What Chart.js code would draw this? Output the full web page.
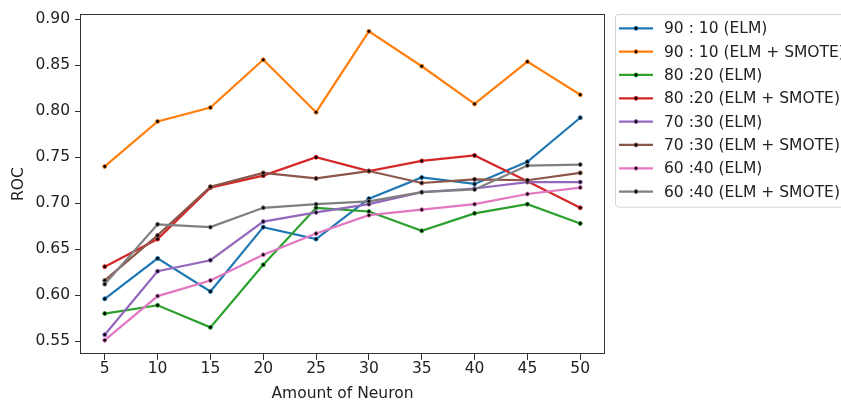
<!DOCTYPE html>
<html>
<head>
<meta charset="utf-8">
<script src="https://cdn.jsdelivr.net/npm/chart.js@4.4.0/dist/chart.umd.min.js"></script>
<style>
  html, body { margin: 0; padding: 0; background: #ffffff; }
  #c { display: block; }
</style>
</head>
<body>
<canvas id="c" width="841" height="403"></canvas>
<script>
// ---- data ----
const neurons = [5, 10, 15, 20, 25, 30, 35, 40, 45, 50];
const xTicks = [5, 10, 15, 20, 25, 30, 35, 40, 45, 50];
const yTicks = [0.55, 0.60, 0.65, 0.70, 0.75, 0.80, 0.85, 0.90];

const seriesLabels = [
  '90 : 10 (ELM)',
  '90 : 10 (ELM + SMOTE)',
  '80 :20 (ELM)',
  '80 :20 (ELM + SMOTE)',
  '70 :30 (ELM)',
  '70 :30 (ELM + SMOTE)',
  '60 :40 (ELM)',
  '60 :40 (ELM + SMOTE)'
];
const elm90 = [0.596, 0.640, 0.604, 0.674, 0.661, 0.705, 0.728, 0.721, 0.745, 0.793];
const smote90 = [0.740, 0.789, 0.804, 0.856, 0.799, 0.887, 0.849, 0.808, 0.854, 0.818];
const elm80 = [0.580, 0.589, 0.565, 0.633, 0.695, 0.691, 0.670, 0.689, 0.699, 0.678];
const smote80 = [0.631, 0.661, 0.717, 0.730, 0.750, 0.735, 0.746, 0.752, 0.724, 0.695];
const elm70 = [0.557, 0.626, 0.638, 0.680, 0.690, 0.699, 0.712, 0.716, 0.723, 0.723];
const smote70 = [0.616, 0.665, 0.718, 0.733, 0.727, 0.735, 0.722, 0.726, 0.725, 0.733];
const elm60 = [0.551, 0.599, 0.616, 0.644, 0.667, 0.687, 0.693, 0.699, 0.710, 0.717];
const smote60 = [0.612, 0.677, 0.674, 0.695, 0.699, 0.702, 0.712, 0.715, 0.741, 0.742];
const seriesValues = [elm90, smote90, elm80, smote80, elm70, smote70, elm60, smote60];
const seriesColors = ['#1f77b4', '#ff7f0e', '#2ca02c', '#d62728', '#9467bd', '#8c564b', '#e377c2', '#7f7f7f'];

const FONT = { family: '"DejaVu Sans", sans-serif', size: 15.5 };
const TEXT = '#222222';

const datasets = seriesValues.map((vals, i) => ({
  label: seriesLabels[i],
  data: neurons.map((n, j) => ({ x: n, y: vals[j] })),
  borderColor: seriesColors[i],
  backgroundColor: seriesColors[i],
  borderWidth: 2.2,
  pointRadius: 2,
  pointBorderWidth: 1,
  pointBorderColor: seriesColors[i],
  pointBackgroundColor: '#000000',
  tension: 0,
  fill: false,
  order: seriesValues.length - i
}));

const framePlugin = {
  id: 'frame',
  afterDatasetsDraw(chart) {
    const { ctx, chartArea: a } = chart;
    ctx.save();
    ctx.strokeStyle = '#333333';
    ctx.lineWidth = 1;
    ctx.strokeRect(Math.round(a.left) - 0.5, Math.round(a.top) + 0.5,
                   Math.round(a.right - a.left) + 1, Math.round(a.bottom - a.top) - 1);
    ctx.restore();
  }
};

const legendPlugin = {
  id: 'mplLegend',
  afterDraw(chart) {
    const { ctx } = chart;
    const ds = chart.data.datasets;
    const boxX = 615.5, boxY = 14.5, rowH = 23.33, firstY = 28.3;
    const boxH = ds.length * rowH + 6;
    ctx.save();
    ctx.fillStyle = 'rgba(255,255,255,0.8)';
    ctx.strokeStyle = '#d5d5d5';
    ctx.lineWidth = 1;
    ctx.beginPath();
    ctx.roundRect(boxX, boxY, 300, boxH, 3);
    ctx.fill();
    ctx.stroke();
    ctx.font = '15.5px "DejaVu Sans", sans-serif';
    ctx.textBaseline = 'middle';
    ctx.textAlign = 'left';
    ds.forEach((d, i) => {
      const y = firstY + i * rowH;
      ctx.strokeStyle = d.borderColor;
      ctx.lineWidth = 2.2;
      ctx.beginPath();
      ctx.moveTo(619, y);
      ctx.lineTo(653, y);
      ctx.stroke();
      ctx.beginPath();
      ctx.arc(636, y, 2, 0, Math.PI * 2);
      ctx.fillStyle = '#000';
      ctx.fill();
      ctx.lineWidth = 1;
      ctx.strokeStyle = d.borderColor;
      ctx.stroke();
      ctx.fillStyle = TEXT;
      ctx.fillText(d.label, 664, y + 1);
    });
    ctx.restore();
  }
};

new Chart(document.getElementById('c'), {
  type: 'line',
  data: { datasets },
  plugins: [framePlugin, legendPlugin],
  options: {
    responsive: false,
    animation: false,
    layout: { padding: { left: 0, top: 14, right: 237, bottom: 0 } },
    plugins: { legend: { display: false }, tooltip: { enabled: false } },
    scales: {
      x: {
        type: 'linear',
        min: 2.75,
        max: 52.25,
        afterBuildTicks: s => { s.ticks = xTicks.map(v => ({ value: v })); },
        afterFit: s => { s.height = 49; },
        grid: { display: true, drawOnChartArea: false, drawTicks: true, tickLength: 6, tickColor: '#333', tickWidth: 1 },
        border: { display: false },
        ticks: { font: FONT, color: TEXT, padding: 0, maxRotation: 0, autoSkip: false, callback: v => String(v) },
        title: { display: true, text: 'Amount of Neuron', font: FONT, color: TEXT, padding: { top: 0, bottom: 0 } }
      },
      y: {
        type: 'linear',
        min: 0.536,
        max: 0.9055,
        afterBuildTicks: s => { s.ticks = yTicks.map(v => ({ value: v })); },
        afterFit: s => { s.width = 81; },
        grid: { display: true, drawOnChartArea: false, drawTicks: true, tickLength: 6, tickColor: '#333', tickWidth: 1 },
        border: { display: false },
        ticks: { font: FONT, color: TEXT, padding: 5, autoSkip: false, callback: v => v.toFixed(2) },
        title: { display: true, text: 'ROC', font: FONT, color: TEXT, padding: { top: 10, bottom: 0 } }
      }
    }
  }
});
</script>
</body>
</html>
